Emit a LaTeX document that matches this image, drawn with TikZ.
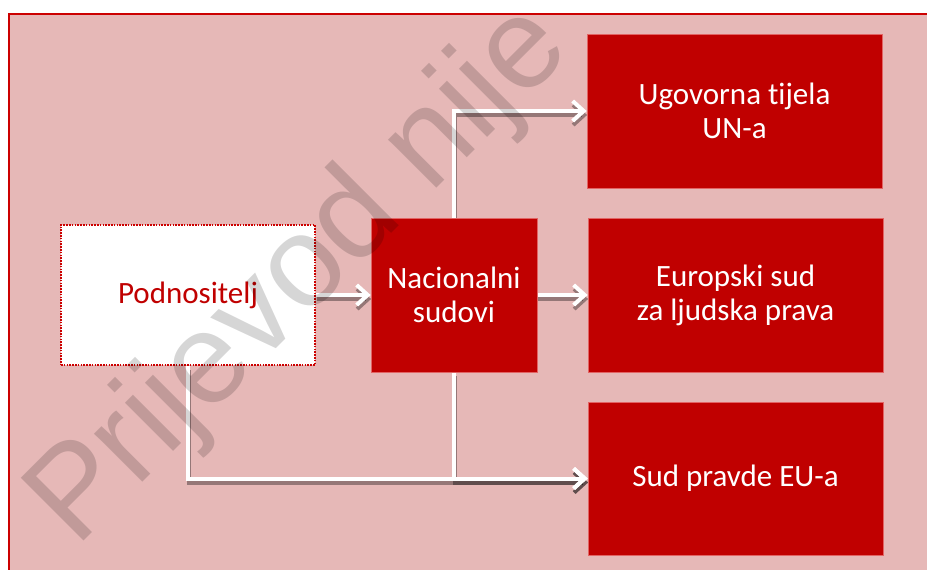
\documentclass[tikz,border=0pt]{standalone}
\usepackage{fontspec}
\setmainfont{Carlito}[Ligatures=NoCommon]
\newfontfamily\wmfont{Liberation Sans}
\usetikzlibrary{arrows.meta,backgrounds}
\definecolor{boxred}{RGB}{192,0,0}
\definecolor{pinkbg}{RGB}{230,184,183}
\definecolor{framered}{RGB}{204,0,0}
\definecolor{edgered}{RGB}{226,100,100}
\begin{document}
\begin{tikzpicture}[x=1pt,y=-1pt,
  redbox/.style={fill=boxred, draw=edgered, line width=0.8pt, inner sep=0pt,
    text=white, align=center, font=\fontsize{31}{34}\selectfont},
  srcbox/.style={fill=white, draw=framered, line width=2pt,
    dash pattern=on 1.6pt off 1.2pt, inner sep=0pt,
    text=boxred, align=center, font=\fontsize{31}{34}\selectfont},
  conn/.style={draw=white, line width=4pt,
    -{Straight Barb[length=11pt,width=20pt]}},
  shadowconn/.style={draw=black, opacity=0.35, line width=4pt,
    -{Straight Barb[length=11pt,width=20pt]},
    transform canvas={shift={(0.5pt,-4pt)}}}
]
\useasboundingbox (0,0) rectangle (927,570);

\node[redbox, minimum width=295pt, minimum height=154pt] (ugo) at (734.5,111) {Ugovorna tijela\\UN-a};
\node[redbox, minimum width=295pt, minimum height=154pt] (eur) at (735.5,295) {Europski sud\\za ljudska prava};
\node[redbox, minimum width=295pt, minimum height=153pt] (sud) at (735.5,478.5) {Sud pravde EU-a};
\node[redbox, minimum width=166pt, minimum height=154pt] (nac) at (454,295) {Nacionalni\\sudovi};
\node[srcbox, minimum width=254pt, minimum height=140pt] (pod) at (188,295) {Podnositelj};

\begin{scope}[on background layer]
  \fill[pinkbg] (9,14) rectangle (927,570);
  \draw[framered, line width=2pt] (9,570) -- (9,14) -- (927,14);
  % shadows
  \draw[shadowconn] (pod.east) -- (nac.west);
  \draw[shadowconn] (nac.east) -- (eur.west);
  \draw[shadowconn] (nac.north) |- (ugo.west);
  \draw[shadowconn] (nac.south) |- (sud.west);
  \draw[shadowconn] (pod.south) |- (sud.west);
  % white connectors
  \draw[conn] (pod.east) -- (nac.west);
  \draw[conn] (nac.east) -- (eur.west);
  \draw[conn] (nac.north) |- (ugo.west);
  \draw[conn] (nac.south) |- (sud.west);
  \draw[conn] (pod.south) |- (sud.west);
\end{scope}

\node[rotate=45, anchor=base west, inner sep=0pt, text=black, opacity=0.16,
  font=\fontsize{129}{129}\selectfont\wmfont] (wm) at (76,549) {Prijevod nije};
\end{tikzpicture}
\end{document}
